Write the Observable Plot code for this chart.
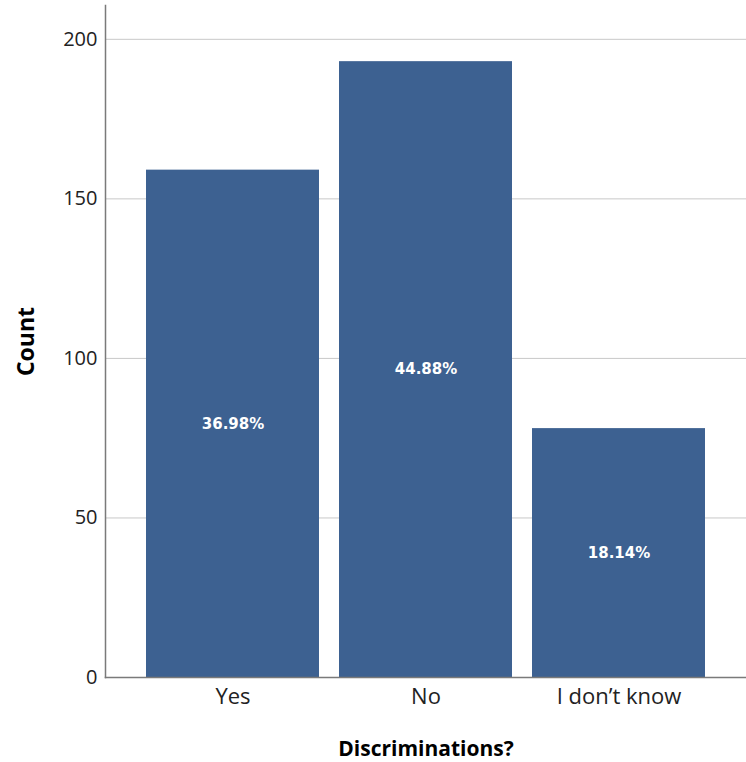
<!DOCTYPE html>
<html>
<head>
<meta charset="utf-8">
<script src="https://cdn.jsdelivr.net/npm/d3@7"></script>
<script src="https://cdn.jsdelivr.net/npm/@observablehq/plot@0.6"></script>
<style>
  html, body { margin: 0; padding: 0; background: #fff; }
  svg { display: block; }
</style>
</head>
<body>
<div id="chart"></div>
<script>
const categories = ["Yes", "No", "I don\u2019t know"];
const counts = [159, 193, 78];
const percentLabels = ["36.98%", "44.88%", "18.14%"];
const yTicks = [0, 50, 100, 150, 200];

const data = categories.map((c, i) => ({cat: c, count: counts[i], pct: percentLabels[i]}));

const font = "'Open Sans', 'Segoe UI', sans-serif";

const chart = Plot.plot({
  width: 746,
  height: 762,
  marginTop: 5,
  marginBottom: 85,
  marginLeft: 105,
  marginRight: 0,
  style: {fontFamily: font, background: "#fff", color: "#222"},
  x: {domain: categories, paddingInner: 0.104, paddingOuter: 0.2125},
  y: {domain: [0, 210.6]},
  marks: [
    Plot.gridY(yTicks.filter(d => d > 0), {stroke: "#c8c8c8", strokeOpacity: 1, strokeWidth: 1}),
    Plot.barY(data, {x: "cat", y: "count", fill: "#3d6191"}),
    Plot.text(data, {x: "cat", y: d => d.count / 2, text: "pct", fill: "white", fontWeight: "bold", fontSize: 15, fontFamily: "'DejaVu Sans', Verdana, sans-serif"}),
    Plot.axisY({ticks: yTicks, tickSize: 0, tickPadding: 8, fontSize: 20, label: null, color: "#222"}),
    Plot.axisY({ticks: [], label: "Count", labelAnchor: "center", labelArrow: "none", labelOffset: 88, fontSize: 23, fontWeight: "bold", color: "#000"}),
    Plot.axisX({tickSize: 0, tickPadding: 11, fontSize: 22, label: null, color: "#222"}),
    Plot.axisX({ticks: [], label: "Discriminations?", labelAnchor: "center", labelArrow: "none", labelOffset: 78, fontSize: 21, fontWeight: "bold", color: "#000"}),
    Plot.frame({anchor: "left", stroke: "#7a7a7a", strokeWidth: 1.5}),
    Plot.frame({anchor: "bottom", stroke: "#7a7a7a", strokeWidth: 1.5})
  ]
});
document.getElementById("chart").appendChild(chart);
</script>
</body>
</html>
